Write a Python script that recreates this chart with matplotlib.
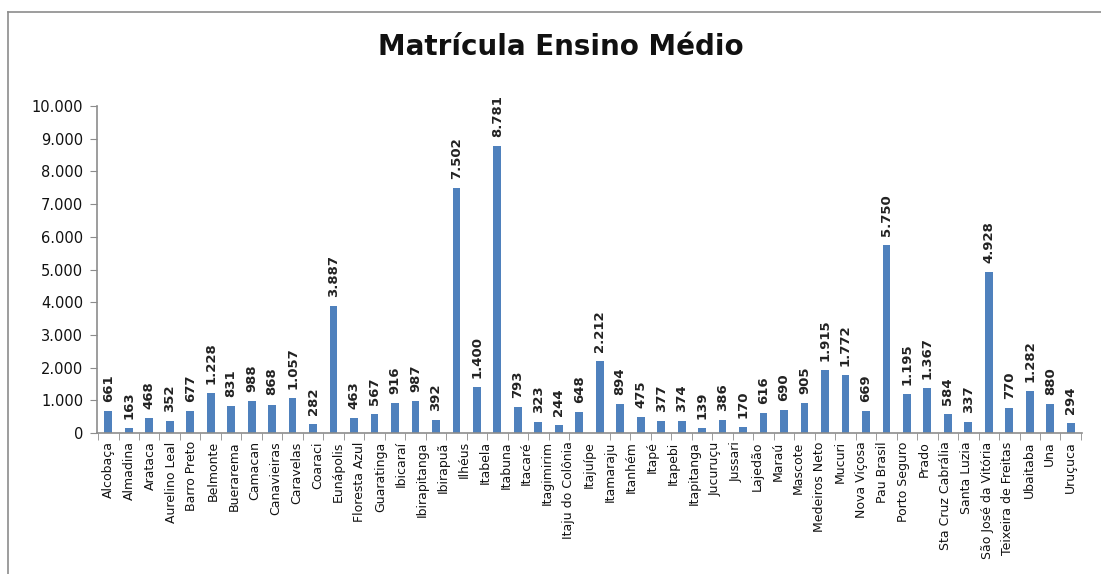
import matplotlib
matplotlib.use("Agg")
import matplotlib.pyplot as plt
from matplotlib.ticker import FuncFormatter, FixedLocator, NullFormatter
import numpy as np

categories = ["Alcobaça", "Almadina", "Arataca", "Aurelino Leal", "Barro Preto", "Belmonte",
              "Buerarema", "Camacan", "Canavieiras", "Caravelas", "Coaraci", "Eunápolis",
              "Floresta Azul", "Guaratinga", "Ibicaraí", "Ibirapitanga", "Ibirapuã", "Ilhéus",
              "Itabela", "Itabuna", "Itacaré", "Itagimirim", "Itaju do Colônia", "Itajuípe",
              "Itamaraju", "Itanhém", "Itapé", "Itapebi", "Itapitanga", "Jucuruçu", "Jussari",
              "Lajedão", "Maraú", "Mascote", "Medeiros Neto", "Mucuri", "Nova Viçosa",
              "Pau Brasil", "Porto Seguro", "Prado", "Sta Cruz Cabrália", "Santa Luzia",
              "São José da Vitória", "Teixeira de Freitas", "Ubaitaba", "Una", "Uruçuca"]

values = [661, 163, 468, 352, 677, 1228, 831, 988, 868, 1057, 282, 3887, 463, 567, 916, 987,
          392, 7502, 1400, 8781, 793, 323, 244, 648, 2212, 894, 475, 377, 374, 139, 386, 170,
          616, 690, 905, 1915, 1772, 669, 5750, 1195, 1367, 584, 337, 4928, 770, 1282, 880, 294]

title = "Matrícula Ensino Médio"
yticks = [0, 1000, 2000, 3000, 4000, 5000, 6000, 7000, 8000, 9000, 10000]

def br(v):
    return f"{int(v):,}".replace(",", ".")

W, H = 1101, 574
fig = plt.figure(figsize=(W / 100, H / 100), dpi=100)
fig.patch.set_facecolor("white")

# outer frame (left and top edges visible)
fig.add_artist(plt.Line2D([8 / W, 8 / W], [0, 1 - 12 / H], color="#8c8c8c", lw=1.2))
fig.add_artist(plt.Line2D([8 / W, 1], [1 - 12 / H, 1 - 12 / H], color="#8c8c8c", lw=1.2))

ax = fig.add_axes([97 / W, (H - 433) / H, (1082 - 97) / W, (433 - 106) / H])
x = np.arange(len(values))
bar_color = "#4F81BD"
ax.bar(x, values, width=0.38, color=bar_color, zorder=2)

ax.set_xlim(-0.55, len(values) - 0.45)
ax.set_ylim(0, 10000)
ax.set_yticks(yticks)
ax.yaxis.set_major_formatter(FuncFormatter(lambda v, p: br(v)))
ax.tick_params(axis="y", labelsize=10.5, length=5, color="#8c8c8c", pad=5, labelcolor="#111111")

# category labels spread evenly across the bars
label_pos = np.linspace(0, len(values) - 1, len(categories))
ax.set_xticks(label_pos)
ax.set_xticklabels(categories, rotation=90, fontsize=9,
                   family=["Liberation Sans Narrow", "DejaVu Sans Condensed", "DejaVu Sans"])
ax.tick_params(axis="x", length=0, pad=6, labelcolor="#111111")
ax.xaxis.set_minor_locator(FixedLocator(np.arange(len(values) + 1) - 0.5))
ax.xaxis.set_minor_formatter(NullFormatter())
ax.tick_params(axis="x", which="minor", length=5, color="#8c8c8c")

for s in ["top", "right"]:
    ax.spines[s].set_visible(False)
for s in ["left", "bottom"]:
    ax.spines[s].set_color("#8c8c8c")
    ax.spines[s].set_linewidth(1.2)

for xi, v in zip(x, values):
    ax.text(xi, v + 280, br(v), rotation=90, ha="center", va="bottom", fontsize=9.5,
            fontweight="bold", color="#222222",
            family=["DejaVu Sans Condensed", "DejaVu Sans"])

fig.text(561 / W, 1 - 47 / H, title, ha="center", va="center", fontsize=20,
         fontweight="bold", color="#111111", family=["DejaVu Sans Condensed", "DejaVu Sans"])

fig.savefig("out.png", dpi=100)
